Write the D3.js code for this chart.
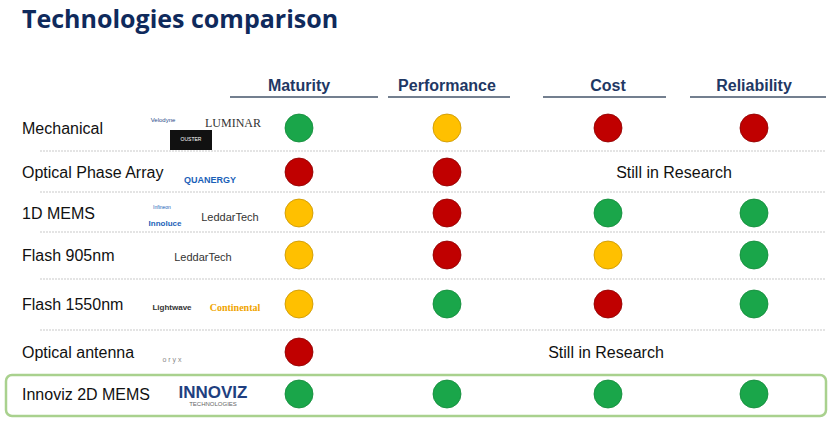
<!DOCTYPE html>
<html><head><meta charset="utf-8">
<script src="https://cdn.jsdelivr.net/npm/d3@7"></script>
<style>body{margin:0;background:#fff}</style>
</head><body><svg id="c" width="830" height="422"></svg>
<script>
var criteria = ["Maturity", "Performance", "Cost", "Reliability"];
var technologies = ["Mechanical", "Optical Phase Array", "1D MEMS", "Flash 905nm", "Flash 1550nm", "Optical antenna", "Innoviz 2D MEMS"];
// g = good, y = medium, r = poor, null = still in research
var ratings = [
    ["g", "y", "r", "r"],
    ["r", "r", null, null],
    ["y", "r", "g", "g"],
    ["y", "r", "y", "g"],
    ["y", "g", "r", "g"],
    ["r", null, null, null],
    ["g", "g", "g", "g"]
];
var researchNotes = [{row: 1, label: "Still in Research", x: 674}, {row: 5, label: "Still in Research", x: 606}];
var logos = [
    [{t: "Velodyne", x: 163, dy: -8, s: 6, c: "#2a4a8a"}, {t: "LUMINAR", x: 233, dy: -5, s: 12, c: "#333", f: "Liberation Serif"}, {t: "OUSTER", x: 191, dy: 11, s: 5, c: "#fff", box: true}],
    [{t: "QUANERGY", x: 210, dy: 8, s: 9, c: "#1b5fb8", w: "bold"}],
    [{t: "Infineon", x: 162, dy: -6, s: 5, c: "#1b5fb8"}, {t: "Innoluce", x: 165, dy: 10, s: 8, c: "#1b5fb8", w: "bold"}, {t: "LeddarTech", x: 230, dy: 4, s: 11, c: "#333"}],
    [{t: "LeddarTech", x: 203, dy: 2, s: 11, c: "#333"}],
    [{t: "Lightwave", x: 172, dy: 3, s: 8, c: "#333", w: "bold"}, {t: "Continental", x: 235, dy: 3, s: 10, c: "#f0a500", w: "bold", f: "Liberation Serif"}],
    [{t: "o r y x", x: 172, dy: 8, s: 7, c: "#888"}],
    [{t: "INNOVIZ", x: 213, dy: -2, s: 17, c: "#1f3f80", w: "bold"}, {t: "TECHNOLOGIES", x: 213, dy: 10, s: 6, c: "#666"}]
];

var colors = {g: "#1aa64a", y: "#ffc000", r: "#c00000"};
var strokes = {g: "#138a3a", y: "#c89400", r: "#8e0000"};

var svg = d3.select("#c");
var x = d3.scaleOrdinal().domain(criteria).range([299, 447, 608, 754]);
var y = d3.scaleOrdinal().domain(technologies).range([128, 172, 213, 255, 304, 352, 394]);
var headLine = {Maturity: [230, 378], Performance: [388, 510], Cost: [543, 666], Reliability: [690, 826]};

svg.append("text").attr("x", 22).attr("y", 28).text("Technologies comparison")
    .style("font", "bold 25px 'Open Sans', sans-serif").style("fill", "#0f2a5c");

svg.selectAll(".hd").data(criteria).enter().append("text")
    .attr("x", function(d) { return x(d); }).attr("y", 91).attr("text-anchor", "middle")
    .text(function(d) { return d; })
    .style("font", "bold 16px 'Liberation Sans', Arial, sans-serif").style("fill", "#1f3864");
svg.selectAll(".hl").data(criteria).enter().append("line")
    .attr("x1", function(d) { return headLine[d][0]; }).attr("x2", function(d) { return headLine[d][1]; })
    .attr("y1", 97).attr("y2", 97).style("stroke", "#44546a").style("stroke-width", 1.3);

var seps = [151, 192, 232, 279, 330];
svg.selectAll(".sep").data(seps).enter().append("line")
    .attr("x1", 40).attr("x2", 826).attr("y1", function(d) { return d; }).attr("y2", function(d) { return d; })
    .style("stroke", "#bbb").style("stroke-dasharray", "2,1").style("stroke-width", 0.8);

svg.append("rect").attr("x", 6).attr("y", 375).attr("width", 820).attr("height", 41).attr("rx", 6)
    .style("fill", "none").style("stroke", "#a9d18e").style("stroke-width", 2.5);

svg.selectAll(".tn").data(technologies).enter().append("text")
    .attr("x", 22).attr("y", function(d) { return y(d) + 6; })
    .text(function(d) { return d; })
    .style("font", "16px 'Liberation Sans', Arial, sans-serif").style("fill", "#111");

logos.forEach(function(list, i) {
    var g = svg.append("g");
    list.forEach(function(l) {
        var cy = y(technologies[i]) + l.dy;
        if (l.box) g.append("rect").attr("x", l.x - 21).attr("y", cy - 9).attr("width", 42).attr("height", 20).style("fill", "#111");
        g.append("text").attr("x", l.x).attr("y", cy + l.s * 0.35).attr("text-anchor", "middle").text(l.t)
            .style("font-family", (l.f || "'Liberation Sans', Arial") + ", sans-serif")
            .style("font-size", l.s + "px").style("font-weight", l.w || "normal").style("fill", l.c);
    });
});

var cells = [];
ratings.forEach(function(row, i) {
    row.forEach(function(v, j) { if (v) cells.push({t: technologies[i], c: criteria[j], v: v}); });
});
svg.selectAll(".dot").data(cells).enter().append("circle")
    .attr("cx", function(d) { return x(d.c); }).attr("cy", function(d) { return y(d.t); }).attr("r", 14)
    .style("fill", function(d) { return colors[d.v]; }).style("stroke", function(d) { return strokes[d.v]; })
    .style("stroke-width", 0.8);

svg.selectAll(".rs").data(researchNotes).enter().append("text")
    .attr("x", function(d) { return d.x; }).attr("y", function(d) { return y(technologies[d.row]) + 6; })
    .attr("text-anchor", "middle").text(function(d) { return d.label; })
    .style("font", "16px 'Liberation Sans', Arial, sans-serif").style("fill", "#111");
</script>
</body></html>
